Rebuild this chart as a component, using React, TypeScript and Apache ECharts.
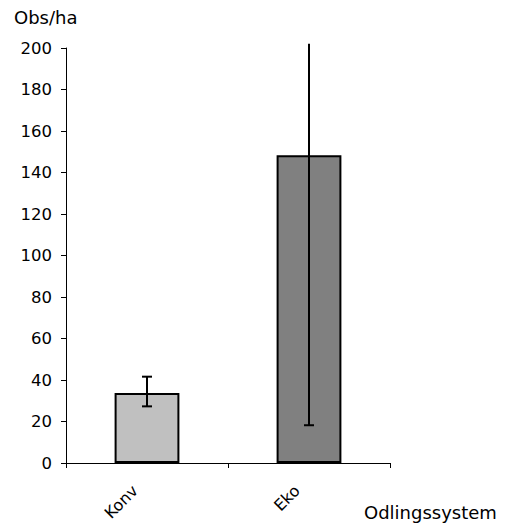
import React, { useEffect, useRef } from "react";
import * as echarts from "echarts";

const categories = ["Konv", "Eko"];
const values = [33.7, 148.3];
const errLow = [27.3, 18.2];
const errHigh = [41.6, 260];
const barColors = ["#C0C0C0", "#808080"];
const yTicks = { min: 0, max: 200, interval: 20 };

const FONT = "'DejaVu Sans', Verdana, sans-serif";

export default function App() {
  const ref = useRef<HTMLDivElement>(null);
  useEffect(() => {
    if (!ref.current) return;
    const chart = echarts.init(ref.current, undefined, { renderer: "svg" });
    const clipTop = yTicks.max * 1.01;
    chart.setOption({
      animation: false,
      backgroundColor: "#ffffff",
      grid: { left: 66, right: 119, top: 48, bottom: 60, containLabel: false, outerBoundsMode: "none" },
      graphic: [
        { type: "text", left: 14, top: 8, style: { text: "Obs/ha", fontSize: 18, fontFamily: FONT, fill: "#000" } },
        { type: "text", left: 364, top: 503, style: { text: "Odlingssystem", fontSize: 18, fontFamily: FONT, fill: "#000" } },
      ],
      xAxis: {
        type: "category",
        data: categories,
        boundaryGap: true,
        axisLine: { lineStyle: { color: "#000", width: 1 } },
        axisTick: { show: true, length: 5, lineStyle: { color: "#000" } },
        axisLabel: { rotate: 45, margin: 13, padding: [0, 17, 0, 0], color: "#000", fontSize: 16, fontFamily: FONT },
      },
      yAxis: {
        type: "value",
        min: yTicks.min,
        max: yTicks.max,
        interval: yTicks.interval,
        splitLine: { show: false },
        axisLine: { show: true, lineStyle: { color: "#000", width: 1 } },
        axisTick: { show: true, length: 5, lineStyle: { color: "#000" } },
        axisLabel: { color: "#000", fontSize: 16.5, fontFamily: FONT, margin: 14 },
      },
      series: [
        {
          type: "bar",
          barWidth: "40%",
          data: values.map((v, i) => ({
            value: v,
            itemStyle: { color: barColors[i], borderColor: "#000", borderWidth: 2 },
          })),
        },
        {
          type: "custom",
          clip: false,
          z: 10,
          data: categories.map((_, i) => [i, errLow[i], errHigh[i]]),
          renderItem: (params: any, api: any) => {
            const x = api.value(0);
            const lo = api.value(1);
            const hi = api.value(2);
            const hiClipped = Math.min(hi, clipTop);
            const pLo = api.coord([x, lo]);
            const pHi = api.coord([x, hiClipped]);
            const cap = 5;
            const style = { stroke: "#000", lineWidth: 2 };
            const children: any[] = [
              { type: "line", shape: { x1: pLo[0], y1: pLo[1], x2: pHi[0], y2: pHi[1] }, style },
              { type: "line", shape: { x1: pLo[0] - cap, y1: pLo[1], x2: pLo[0] + cap, y2: pLo[1] }, style },
            ];
            if (hi <= yTicks.max) {
              children.push({ type: "line", shape: { x1: pHi[0] - cap, y1: pHi[1], x2: pHi[0] + cap, y2: pHi[1] }, style });
            }
            return { type: "group", children };
          },
        },
      ],
    });
    return () => chart.dispose();
  }, []);
  return <div ref={ref} style={{ width: 509, height: 523, position: "absolute", left: 0, top: 0 }} />;
}
